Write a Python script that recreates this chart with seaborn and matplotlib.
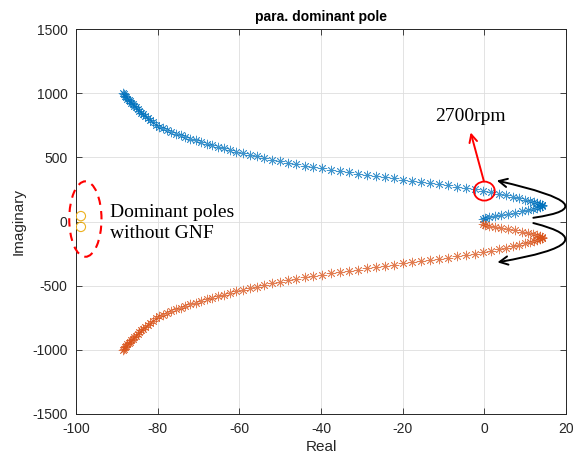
import matplotlib
matplotlib.use("Agg")
import matplotlib.pyplot as plt
import seaborn as sns
import pandas as pd
from matplotlib.patches import Ellipse, FancyArrowPatch
from matplotlib.path import Path

# ---------------- data ----------------
blue_re = [-88.6, -88.3, -88.0, -87.7, -87.4, -87.1, -86.8, -86.5, -86.1, -85.7,
           -85.3, -84.9, -84.5, -84.0, -83.5, -83.0, -82.4, -81.8, -81.2, -80.5,
           -79.7, -78.8, -77.8, -76.7, -75.6, -74.4, -73.2, -72.0, -70.7, -69.4,
           -68.0, -66.6, -65.2, -63.7, -62.2, -60.7,
           -59.1, -57.4, -55.7, -53.9, -52.0, -50.1, -48.1, -46.1, -44.0, -41.9,
           -39.8, -37.6, -35.4, -33.2, -31.0, -28.8, -26.6, -24.4, -22.2, -20.0,
           -17.8, -15.6, -13.4, -11.2, -9.0, -6.8, -4.6, -2.4, -0.3,
           1.7, 3.6, 5.4, 7.1, 8.6, 10.0, 11.2, 12.2, 13.0, 13.6, 14.0, 14.2,
           14.1, 13.7, 13.0, 12.0, 10.7, 9.2, 7.6, 5.9, 4.2, 2.6, 1.2, 0.2, -0.3]
blue_im = [1000, 990, 979, 968, 958, 947, 937, 926, 914, 901,
           889, 876, 864, 849, 834, 820, 803, 788, 772, 755,
           740, 726, 712, 698, 685, 672, 659, 646, 633, 620,
           607, 594, 582, 569, 556, 543,
           531, 519, 507, 495, 483, 471, 459, 448, 436, 425,
           414, 404, 394, 384, 374, 364, 354, 345, 336, 327,
           318, 309, 300, 291, 282, 272, 262, 251, 240,
           229, 217, 205, 193, 182, 171, 161, 152, 144, 137, 131, 125,
           118, 110, 102, 94, 86, 78, 70, 62, 54, 46, 37, 27, 17]

orange_re = [-88.6, -88.3, -88.0, -87.7, -87.4, -87.1, -86.8, -86.5, -86.1, -85.7,
             -85.3, -84.9, -84.5, -84.0, -83.5, -83.0, -82.4, -81.8, -81.2, -80.5,
             -79.7, -78.8, -77.8, -76.7, -75.6, -74.4, -73.2, -72.0, -70.7, -69.4,
             -68.0, -66.6, -65.2, -63.7, -62.2, -60.7,
             -59.1, -57.4, -55.7, -53.9, -52.0, -50.1, -48.1, -46.1, -44.0, -41.9,
             -39.8, -37.6, -35.4, -33.2, -31.0, -28.8, -26.6, -24.4, -22.2, -20.0,
             -17.8, -15.6, -13.4, -11.2, -9.0, -6.8, -4.6, -2.4, -0.3,
             1.7, 3.6, 5.4, 7.1, 8.6, 10.0, 11.2, 12.2, 13.0, 13.6, 14.0, 14.2,
             14.1, 13.7, 13.0, 12.0, 10.7, 9.2, 7.6, 5.9, 4.2, 2.6, 1.2, 0.2, -0.3]
orange_im = [-1000, -990, -979, -968, -958, -947, -937, -926, -914, -901,
             -889, -876, -864, -849, -834, -820, -803, -788, -772, -755,
             -740, -726, -712, -698, -685, -672, -659, -646, -633, -620,
             -607, -594, -582, -569, -556, -543,
             -531, -519, -507, -495, -483, -471, -459, -448, -436, -425,
             -414, -404, -394, -384, -374, -364, -354, -345, -336, -327,
             -318, -309, -300, -291, -282, -272, -262, -251, -240,
             -229, -217, -205, -193, -182, -171, -161, -152, -144, -137, -131, -125,
             -118, -110, -102, -94, -86, -78, -70, -62, -54, -46, -37, -27, -17]

gnf_re = [-98.8, -98.8]
gnf_im = [42, -42]

xticks = [-100, -80, -60, -40, -20, 0, 20]
yticks = [-1500, -1000, -500, 0, 500, 1000, 1500]

title = "para. dominant pole"
xlabel = "Real"
ylabel = "Imaginary"
note_gnf = "Dominant poles\nwithout GNF"
note_rpm = "2700rpm"

# ---------------- style ----------------
sns.set_style("ticks")
plt.rcParams['font.family'] = ['Liberation Sans', 'DejaVu Sans']
plt.rcParams['axes.unicode_minus'] = False

BLUE = "#0072BD"
ORANGE = "#D95319"
YELLOW = "#EDB120"
AX = "#262626"

fig = plt.figure(figsize=(5.73, 4.62), dpi=100)
ax = fig.add_axes([0.1326, 0.1039, 0.8552, 0.8333])

ast = (8, 2, 0)
sns.scatterplot(x=blue_re, y=blue_im, ax=ax, marker=ast, s=40, alpha=0.75,
                color=BLUE, linewidth=0.6, zorder=3, legend=False)
sns.scatterplot(x=orange_re, y=orange_im, ax=ax, marker=ast, s=40, alpha=0.75,
                color=ORANGE, linewidth=0.6, zorder=3, legend=False)
sns.scatterplot(x=gnf_re, y=gnf_im, ax=ax, marker='o', s=45,
                facecolor='none', edgecolor=YELLOW, linewidth=0.8, zorder=3,
                legend=False)

ax.set_xlim(-100, 20)
ax.set_ylim(-1500, 1500)
ax.set_xticks(xticks)
ax.set_yticks(yticks)
ax.grid(True, color="#dedede", linewidth=0.6)
ax.set_axisbelow(True)
for sp in ax.spines.values():
    sp.set_visible(True)
    sp.set_color(AX)
    sp.set_linewidth(0.7)
ax.tick_params(direction='in', length=4, width=0.6, color=AX, labelsize=10,
               labelcolor=AX, top=True, right=True, pad=6)
ax.set_title(title, fontsize=10, fontweight='bold', color='black', pad=6)
ax.set_xlabel(xlabel, fontsize=11, color=AX, labelpad=3)
ax.set_ylabel(ylabel, fontsize=11, color=AX, labelpad=5)

# ---------------- annotations ----------------
serif = ['Liberation Serif', 'DejaVu Serif']
ax.add_patch(Ellipse((-97.7, 19), 7.9, 588, fill=False, edgecolor='red',
                     linestyle=(0, (4, 3)), linewidth=1.5, clip_on=False, zorder=4))
ax.text(-91.7, -10, note_gnf, family=serif, fontsize=14, color='black',
        va='center', ha='left', linespacing=1.35)

ax.add_patch(Ellipse((0, 237), 5.1, 148, fill=False, edgecolor='red',
                     linewidth=1.3, zorder=4))
ax.annotate('', xy=(-3.35, 694), xytext=(-0.1, 313),
            arrowprops=dict(arrowstyle='->', color='red', lw=1.4,
                            mutation_scale=14, shrinkA=0, shrinkB=0))
ax.text(-3.3, 819, note_rpm, family=serif, fontsize=14, color='black',
        ha='center', va='center')

# curved black arrows
def curve(p0, apex, p2):
    c = (2 * apex[0] - 0.5 * (p0[0] + p2[0]), 2 * apex[1] - 0.5 * (p0[1] + p2[1]))
    return Path([p0, c, p2], [Path.MOVETO, Path.CURVE3, Path.CURVE3])

for p0, apex, p2 in [((12.0, 29), (19.35, 145), (3.04, 319)),
                     ((12.0, -12), (19.35, -165), (3.2, -318))]:
    ax.add_patch(FancyArrowPatch(path=curve(p0, apex, p2), arrowstyle='->',
                                 mutation_scale=15, color='black', lw=1.4,
                                 clip_on=False, zorder=5))

fig.savefig("out.png", dpi=100)
